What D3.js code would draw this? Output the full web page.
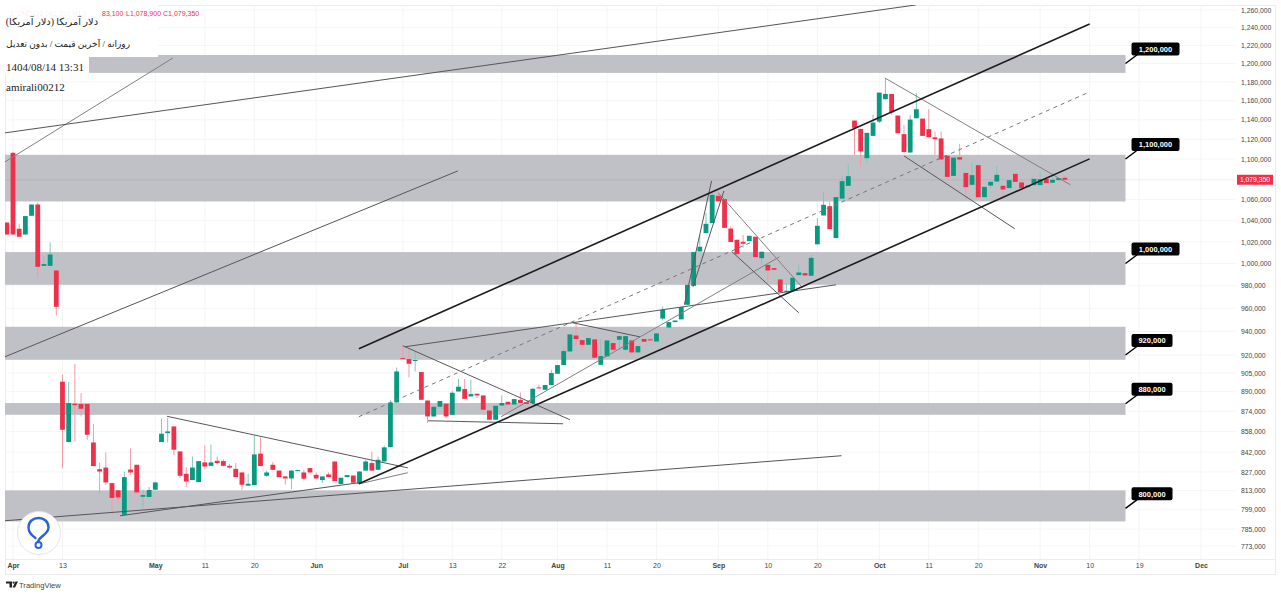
<!DOCTYPE html>
<html>
<head>
<meta charset="utf-8">
<script src="https://cdnjs.cloudflare.com/ajax/libs/d3/7.8.5/d3.min.js"></script>
<style>
  html, body { margin: 0; padding: 0; background: #fff; }
  svg { display: block; }
  text { font-family: "Liberation Sans", Arial, sans-serif; }
</style>
</head>
<body>
<div id="chart"></div>
<script>
// prices are in thousands, one entry per daily bar
var opens = [
  1038.1,1106.2,1032.2,1026.8,1044.5,1055.3,997.9,997.9,993.7,897.9,
  849.8,880,879.8,879.8,849.5,829.1,830.3,818.6,813.2,795.3,
  828.8,832.4,808.5,808.3,813.7,849.8,856.8,862,842.6,825.6,
  820.9,819.4,834.2,831.6,835.4,835.2,831.6,829.3,826.6,816.7,
  817.2,840.9,824.1,832.4,828,823.6,822.1,827.6,826.6,829.9,
  824.8,820.9,825.1,834.9,817.9,823.1,824.3,818.1,828,833.7,
  828.6,834.9,845.9,881,917.4,916.6,915.2,905.8,882.6,869.9,
  877.6,880,871.2,889.9,891.9,885.9,888.1,886.7,874.6,867.3,
  878.6,881.6,879.4,883.2,881.3,880.6,893.2,891.3,895.2,904.4,
  911.6,923,936.5,932.6,928.6,933.2,911.8,918.8,930.1,932.9,
  924.4,932.3,922.2,933.5,933.2,931.4,951.1,943.4,948,950.4,
  963.1,979.9,1011,1028.1,1037.6,1063.7,1060.5,1032.4,1021.9,1020,
  1020.7,1024.7,1004.9,998.8,995.8,985.6,974.6,975.3,989.5,991.3,
  988.9,1017.7,1044.8,1053.7,1023.5,1061,1073.4,1139.2,1130.6,1100.8,
  1123.4,1138.1,1161.6,1167.2,1144.4,1125.2,1106.5,1141.6,1141.2,1130.3,
  1121.9,1120.8,1103.1,1083.2,1101.8,1086.1,1074.4,1093.8,1062.4,1073.7,
  1077.6,1073.4,1071.2,1085.2,1076.7,1073.7,1074.1,1074.1,1080.3,1076.4,
  1079,1081.3
];
var highs = [
  1038.1,1107.2,1036.9,1044.2,1055.3,1057.2,1006.4,1019.4,993.7,903.6,
  897.6,912.7,888.6,879.8,864.1,833.9,841.8,818.6,813.2,827.3,
  844.9,832.4,813.7,815.7,819.8,868.1,868.6,862,842.6,830.6,
  838.7,835.2,847.2,847.8,838.7,836.7,833.1,833.7,826.6,825.6,
  855,853.4,828,834.5,828,823.6,828,828.4,828.6,829.9,
  826.6,823.6,826.6,834.9,822.6,824.6,824.3,827.3,836.2,842.6,
  838.7,847,883.2,909.6,927.8,925.8,923.8,905.8,882.6,877.6,
  882.2,880,890.5,900.1,900.1,899.5,888.1,886.7,874.6,878.4,
  886.7,881.6,883.8,889.1,881.3,892.7,895.4,895.2,907.7,911.6,
  926.3,937.4,947.1,932.6,934.3,933.2,933.5,932.3,930.1,936.5,
  936,932.3,927.5,933.5,934.9,938.3,961.6,948,949.4,961.1,
  980.8,1010.5,1026.5,1047,1066.6,1066.9,1060.5,1034.3,1021.9,1026.5,
  1025.6,1024.7,1010.8,998.8,995.8,985.6,982.6,987.1,998.8,991.3,
  1008,1042.3,1067.8,1058.2,1062.4,1083.2,1094.8,1139.2,1130.6,1126.5,
  1145.1,1168.6,1184,1167.2,1144.4,1134.7,1145.1,1168,1141.2,1151,
  1127.8,1127.8,1103.1,1101.4,1115.3,1086.1,1096.4,1093.8,1072.4,1078.6,
  1093,1073.4,1079,1085.2,1078,1073.7,1080.3,1087.4,1082.5,1086.4,
  1081,1083.1
];
var lows = [
  1026.8,1026.8,1024.7,1026.8,1044.5,987.4,997.9,997.9,953.7,830.1,
  849.8,850.3,869.9,851.6,831.4,810.5,817.4,794.8,804.3,795.3,
  824.8,810.7,800.2,808.3,813.7,849.8,849.5,839.8,822.4,815.7,
  820.9,819.4,829.3,831.6,832.9,831.1,829.3,823.1,813.7,816.7,
  817.2,831.4,823.1,828.6,823.1,817.4,814.2,827.6,820.6,826.6,
  822.1,818.6,823.1,820.1,817.9,823.1,818.9,818.1,828,828,
  828.6,834.9,845.9,881,916.6,901.4,906.3,883.2,864.7,869.9,
  877.6,868.6,871.2,889.9,884,885.9,884.6,875.2,867.3,867.3,
  878.6,879.4,879.4,880.6,879.8,880.6,892.4,891.3,895.2,904.4,
  911.6,923,927.2,925,928.6,917.7,911.8,918.8,924.4,924.4,
  924.4,920.2,922.2,931.2,931.4,931.4,949.4,943.4,948,950.4,
  963.1,979.9,1011,1028.1,1037.6,1058.5,1033.1,1019.8,1008.6,1014.5,
  1020.7,1005.9,998.8,982.3,994.3,974.4,973.7,975.3,989.5,989.2,
  988.9,1017.7,1044.8,1031.9,1023.5,1061,1073.4,1104.2,1092.4,1095.8,
  1123.4,1136.5,1161.6,1145.1,1126.2,1106.9,1106.5,1141.6,1123.4,1122.1,
  1104.2,1099.5,1082.2,1083.2,1097.4,1059.8,1074.4,1062.4,1062.4,1071.2,
  1077.6,1060.5,1071.2,1077.3,1071.2,1072.1,1074.1,1074.1,1076.1,1076.4,
  1079,1078.9
];
var closes = [
  1026.8,1026.8,1024.7,1044.2,1055.3,997,999.5,1008.3,961.3,859.4,
  880.6,878.9,876,855.5,831.4,827.3,819.1,807.6,808,823.1,
  826.6,811.7,809.7,813.5,819.1,856.3,858.1,843.9,824.1,819.8,
  830.3,835.2,831.1,834.2,833.7,831.6,830.3,823.1,817.4,818.1,
  840.3,831.4,826.6,828.6,823.1,822.1,828,828.4,821.9,826.6,
  822.1,823.6,823.1,820.1,822.6,824.6,818.9,827.3,834.9,828,
  836.2,845.7,881,906.3,916.6,912.7,915.8,883.2,869.9,877.6,
  882.2,869.9,888.9,893.8,884,887.8,886.7,875.2,867.3,878.4,
  880.6,879.4,883.8,880.6,879.8,892.1,892.4,895.2,905,911.6,
  923.3,937.4,933.5,928.6,934.3,917.7,919.1,932.3,924.4,936,
  936,922.2,927.5,931.2,932.6,938.3,958.7,948,949.4,961.1,
  980.8,1010.5,1015.4,1036.9,1064.6,1058.5,1033.1,1019.8,1008.6,1018.2,
  1025.6,1005.9,1010.8,993.7,994.3,974.4,975.5,987.1,991.9,989.2,
  1005.2,1035,1055,1031.9,1062.4,1078,1082.9,1131.7,1107.5,1126.5,
  1137.1,1168.6,1167.2,1147.9,1126.2,1106.9,1140.2,1151,1123.4,1122.1,
  1120,1099.5,1082.2,1101.4,1099.4,1072.1,1083.9,1062.4,1072.4,1077.3,
  1084.2,1069.8,1079,1077.3,1071.2,1072.1,1080.3,1080,1076.1,1079.3,
  1081,1079.35
];

var priceTicks = [1260,1240,1220,1200,1180,1160,1140,1120,1100,1060,1040,1020,1000,980,960,940,920,905,890,874,858,842,827,813,799,785,773];
var lastPrice = 1079.35;

var timeTickBars = [1,9,24,32,40,50,64,72,80,89,97,105,115,123,131,141,149,157,167,175,183,193];
var timeTickLabels = ["Apr","13","May","11","20","Jun","Jul","13","22","Aug","11","20","Sep","10","20","Oct","11","20","Nov","10","19","Dec"];
var monthLabels = ["Apr","May","Jun","Jul","Aug","Sep","Oct","Nov","Dec"];

// support / resistance zones
var zoneTops = [1209.4,1104.2,1010.5,944,880.6,813.2];
var zoneBottoms = [1189.8,1058.2,980.8,916,871.2,790.5];
var zoneLabels = [1200,1100,1000,920,880,800];
var zoneStartBar = -0.3;
var zoneEndBar = 180.8;

// drawn trend lines as [bar, price, bar, price]
var thickLines = [
  [56.9,925.2,175,1244],
  [56.9,818.1,175,1100.1]
];
var mediumLines = [
  [-0.3,1126.5,146.9,1265.8],
  [-0.3,918.5,72.9,1088.1],
  [-0.3,791,134.9,839.3],
  [18.3,794.6,56.9,818.9]
];
var thinLines = [
  [25.9,870,64.8,830.1],
  [64,927.8,91,867.3],
  [64.3,926.9,134,980.8],
  [68.1,866.5,89.9,864.1],
  [91.5,947.4,102.3,935.4],
  [109.5,963.1,113.9,1078.3],
  [110.9,979,115.9,1068.5],
  [117.2,1010.8,128,956.1],
  [145,1103.1,162.9,1032.2]
];
var paleLines = [
  [-0.3,1097.1,26.85,1206.1],
  [57,818.1,64.8,826.4],
  [79.9,869.7,124.9,1006.2],
  [115,1066.6,128.6,978.2],
  [141.9,1184.3,171.9,1074.4]
];
var dashedLines = [
  [56.9,869.7,175,1169.4]
];

var upColor = "#089981";
var downColor = "#f0304a";

var width = 1281, height = 594;
var paneLeft = 5, paneRight = 1235, paneTop = 5, paneBottom = 559, chartBottom = 574, chartRight = 1275;

var x = d3.scaleLinear().domain([0, 193]).range([6.8, 1201]);
var y = d3.scaleLog().domain([773, 1260]).range([546, 10]);

var bars = opens.map(function(o, i) {
  return {i: i, o: o, h: highs[i], l: lows[i], c: closes[i]};
});

var svg = d3.select("#chart").append("svg")
  .attr("width", width)
  .attr("height", height);

svg.append("defs").append("clipPath")
  .attr("id", "pane")
  .append("rect")
    .attr("x", paneLeft)
    .attr("y", paneTop)
    .attr("width", paneRight - paneLeft)
    .attr("height", paneBottom - paneTop);

// frame
svg.append("rect")
  .attr("x", paneLeft + 0.5)
  .attr("y", paneTop + 0.5)
  .attr("width", chartRight - paneLeft)
  .attr("height", chartBottom - paneTop)
  .style("fill", "none")
  .style("stroke", "#ececec");
svg.append("line")
  .attr("x1", paneLeft).attr("x2", chartRight)
  .attr("y1", paneBottom + 0.5).attr("y2", paneBottom + 0.5)
  .style("stroke", "#ececec");

// grid
svg.append("g").selectAll("line")
  .data(priceTicks)
  .enter().append("line")
    .attr("x1", paneLeft)
    .attr("x2", paneRight)
    .attr("y1", function(d) { return y(d); })
    .attr("y2", function(d) { return y(d); })
    .style("stroke", "#f5f5f6");
svg.append("g").selectAll("line")
  .data(timeTickBars)
  .enter().append("line")
    .attr("x1", function(d) { return x(d); })
    .attr("x2", function(d) { return x(d); })
    .attr("y1", paneTop)
    .attr("y2", paneBottom)
    .style("stroke", "#f5f5f6");

var pane = svg.append("g").attr("clip-path", "url(#pane)");

// zones
pane.append("g").selectAll("rect")
  .data(zoneTops)
  .enter().append("rect")
    .attr("x", x(zoneStartBar))
    .attr("width", x(zoneEndBar) - x(zoneStartBar))
    .attr("y", function(d) { return y(d); })
    .attr("height", function(d, i) { return y(zoneBottoms[i]) - y(d); })
    .style("fill", "#c0c1c6");

// last price line
pane.append("line")
  .attr("x1", paneLeft)
  .attr("x2", paneRight)
  .attr("y1", y(lastPrice))
  .attr("y2", y(lastPrice))
  .style("stroke", "#f0304a")
  .style("stroke-opacity", 0.12);

function drawLines(list, color, lineWidth, dash) {
  pane.append("g").selectAll("line")
    .data(list)
    .enter().append("line")
      .attr("x1", function(d) { return x(d[0]); })
      .attr("y1", function(d) { return y(d[1]); })
      .attr("x2", function(d) { return x(d[2]); })
      .attr("y2", function(d) { return y(d[3]); })
      .style("stroke", color)
      .style("stroke-width", lineWidth)
      .style("stroke-dasharray", dash || null);
}

// candles
pane.append("g").selectAll("line")
  .data(bars)
  .enter().append("line")
    .attr("x1", function(d) { return x(d.i); })
    .attr("x2", function(d) { return x(d.i); })
    .attr("y1", function(d) { return y(d.h); })
    .attr("y2", function(d) { return y(d.l); })
    .style("stroke", function(d) { return d.c >= d.o ? "#7fc8b8" : "#f59aa6"; })
    .style("stroke-width", 1);
pane.append("g").selectAll("rect")
  .data(bars)
  .enter().append("rect")
    .attr("x", function(d) { return x(d.i) - 2.4; })
    .attr("width", 4.8)
    .attr("y", function(d) { return y(Math.max(d.o, d.c)); })
    .attr("height", function(d) { return Math.max(1, Math.abs(y(d.o) - y(d.c))); })
    .style("fill", function(d) { return d.c >= d.o ? upColor : downColor; });

drawLines(paleLines, "#808084", 1);
drawLines(thinLines, "#58585c", 1);
drawLines(dashedLines, "#77777b", 1, "4,4");
drawLines(mediumLines, "#55555a", 1);
drawLines(thickLines, "#1c1c1e", 1.6);

// zone callouts
var callouts = svg.append("g").selectAll("g")
  .data(zoneLabels)
  .enter().append("g")
    .attr("transform", function(d) { return "translate(" + x(zoneEndBar) + "," + y(d) + ")"; });
callouts.append("line")
  .attr("x1", 0).attr("y1", 0)
  .attr("x2", 12).attr("y2", -9)
  .style("stroke", "#000")
  .style("stroke-width", 1.4);
callouts.append("rect")
  .attr("x", 6)
  .attr("y", -21)
  .attr("rx", 2)
  .attr("width", function(d) { return d >= 1000 ? 48 : 41; })
  .attr("height", 13)
  .style("fill", "#000");
callouts.append("text")
  .attr("x", function(d) { return d >= 1000 ? 30 : 26.5; })
  .attr("y", -11.8)
  .attr("text-anchor", "middle")
  .style("fill", "#fff")
  .style("font-size", "7.5px")
  .style("font-weight", "bold")
  .text(function(d) { return d3.format(",")(d * 1000); });

// axes
var yAxis = d3.axisRight(y)
  .tickValues(priceTicks)
  .tickSize(0)
  .tickPadding(0)
  .tickFormat(function(d) { return d3.format(",")(d * 1000); });
var yAxisG = svg.append("g")
  .attr("transform", "translate(1241,0)")
  .call(yAxis);
yAxisG.select(".domain").remove();
yAxisG.selectAll("text")
  .style("font-family", '"Liberation Sans", Arial, sans-serif')
  .style("font-size", "6.8px")
  .style("fill", "#444");

var xAxis = d3.axisBottom(x)
  .tickValues(timeTickBars)
  .tickSize(0)
  .tickPadding(0)
  .tickFormat(function(d, i) { return timeTickLabels[i]; });
var xAxisG = svg.append("g")
  .attr("transform", "translate(0,563)")
  .call(xAxis);
xAxisG.select(".domain").remove();
xAxisG.selectAll("text")
  .style("font-family", '"Liberation Sans", Arial, sans-serif')
  .style("font-size", "7px")
  .style("fill", "#444")
  .style("font-weight", function(d, i) { return monthLabels.indexOf(timeTickLabels[i]) >= 0 ? "bold" : "normal"; });

// last price tag
svg.append("rect")
  .attr("x", 1237)
  .attr("y", y(lastPrice) - 5)
  .attr("width", 36)
  .attr("height", 10)
  .style("fill", "#f0304a");
svg.append("text")
  .attr("x", 1255)
  .attr("y", y(lastPrice) + 2.4)
  .attr("text-anchor", "middle")
  .style("fill", "#fff")
  .style("font-size", "6.8px")
  .text(d3.format(",")(lastPrice * 1000).replace(/\.\d+$/, ""));

// header overlay: white boxes that sit over the top left of the pane
svg.append("rect").attr("x", 0).attr("y", 0).attr("width", 158).attr("height", 57).style("fill", "#fff");
svg.append("rect").attr("x", 0).attr("y", 57).attr("width", 89).attr("height", 18).style("fill", "#fff");

svg.append("text")
  .attr("x", 10).attr("y", 16)
  .style("font-size", "7px")
  .style("fill", "#f0304a")
  .style("fill-opacity", 0.12)
  .text("1, 2ND  O1,081,300  H1,0");
svg.append("text")
  .attr("x", 102).attr("y", 16)
  .style("font-size", "7px")
  .style("fill", "#f0304a")
  .text("83,100");
svg.append("text")
  .attr("x", 126).attr("y", 16)
  .style("font-size", "7px")
  .style("fill", "#f0304a")
  .text("L1,078,900");
svg.append("text")
  .attr("x", 163).attr("y", 16)
  .style("font-size", "7px")
  .style("fill", "#f0304a")
  .text("C1,079,350");

svg.append("text")
  .attr("x", 98).attr("y", 25)
  .style("direction", "rtl")
  .style("font-family", '"Liberation Serif", "DejaVu Sans", serif')
  .style("font-size", "9.8px")
  .style("fill", "#222")
  .text("دلار آمریکا (دلار آمریکا)");
svg.append("text")
  .attr("x", 130).attr("y", 47)
  .style("direction", "rtl")
  .style("font-family", '"Liberation Serif", "DejaVu Sans", serif')
  .style("font-size", "9px")
  .style("fill", "#222")
  .text("روزانه / آخرین قیمت / بدون تعدیل");
svg.append("text")
  .attr("x", 6).attr("y", 71)
  .style("font-family", '"Liberation Serif", serif')
  .style("font-size", "11px")
  .style("fill", "#222")
  .text("1404/08/14 13:31");
svg.append("text")
  .attr("x", 6).attr("y", 91)
  .style("font-family", '"Liberation Serif", serif')
  .style("font-size", "11px")
  .style("fill", "#222")
  .text("amirali00212");

// round logo
svg.append("circle")
  .attr("cx", 39).attr("cy", 533).attr("r", 21.5)
  .style("fill", "#fff")
  .style("stroke", "#e6e6e8");
svg.append("path")
  .attr("d", "M35.5,538 C31,535 28.5,532 28.5,527.5 C28.5,521.5 33,518 38.5,518 C44,518 48.5,521.5 48.5,527.5 C48.5,532 44.5,534.5 41.5,537 C39.5,538.6 38.2,540 38.2,542")
  .style("fill", "none")
  .style("stroke", "#2a63d6")
  .style("stroke-width", 2.4)
  .style("stroke-linecap", "round");
svg.append("circle")
  .attr("cx", 38.5).attr("cy", 545).attr("r", 3)
  .style("fill", "none")
  .style("stroke", "#2a63d6")
  .style("stroke-width", 2);

// tradingview mark
svg.append("path")
  .attr("d", "M6,581.5 H12 V587.5 H9.5 V583.5 H6 Z M15.5,581.5 H18 L15,587.5 H12.5 Z")
  .style("fill", "#222");
svg.append("circle").attr("cx", 13.6).attr("cy", 582.6).attr("r", 1.1).style("fill", "#222");
svg.append("text")
  .attr("x", 19).attr("y", 587.5)
  .style("font-size", "7.6px")
  .style("fill", "#444")
  .text("TradingView");
</script>
</body>
</html>
